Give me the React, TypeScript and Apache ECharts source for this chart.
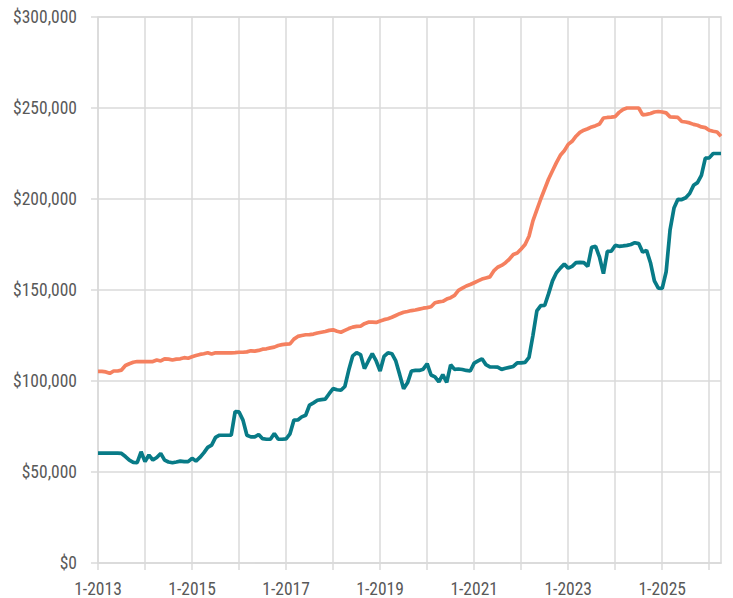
import React, { useEffect, useRef } from "react";
import * as echarts from "echarts";

const START_YEAR = 2013;
const MONTH_COUNT = 160;

// Monthly values, in thousands of dollars, Jan 2013 .. Apr 2026
const orangeValues = [
  105.3, 105.3, 105, 104.2, 105.5, 105.5, 106, 108.5, 109.5, 110.3, 110.7, 110.7,
  110.7, 110.7, 110.7, 111.5, 111, 112.2, 112, 111.5, 112, 112.2, 112.8, 112.5,
  113.3, 114, 114.6, 115, 115.5, 114.8, 115.5, 115.5, 115.5, 115.5, 115.5, 115.6,
  115.8, 115.8, 116, 116.6, 116.4, 116.8, 117.5, 117.7, 118.2, 118.6, 119.5, 120,
  120.3, 120.4, 123, 124.5, 125, 125.4, 125.5, 125.8, 126.4, 126.8, 127.2, 127.8,
  128.1, 127.3, 126.8, 127.8, 128.8, 129.6, 130, 130.1, 131.5, 132.3, 132.3, 132.2,
  133, 133.7, 134.2, 135, 136, 137, 137.8, 138.2, 138.7, 139, 139.5, 140,
  140.3, 140.8, 143, 143.5, 143.8, 145, 145.8, 147, 149.8, 151, 152.2, 153,
  154, 155, 156, 156.6, 157.2, 160.5, 162.5, 163.5, 165, 167, 169.5, 170.3,
  172.5, 175, 179.5, 188, 194, 200, 205.5, 211, 215.5, 220, 224, 226.5,
  230, 231.7, 234.5, 236.6, 237.8, 238.6, 239.6, 240.3, 241.2, 244.5, 244.8, 245,
  245.3, 247.6, 249.2, 250, 250, 250, 250, 246.2, 246.5, 247, 247.8, 248.1,
  247.8, 247.3, 245.1, 245, 244.8, 242.6, 242.3, 241.8, 241, 240.5, 239.6, 239.2,
  237.8, 237.2, 236.8, 234.5,
];

const tealValues = [
  60.4, 60.4, 60.4, 60.4, 60.4, 60.4, 60.2, 58.5, 56.5, 55.3, 55.2, 61.1,
  55.7, 59.3, 56.6, 58, 60.2, 56.5, 55.5, 55.1, 55.5, 56, 55.7, 55.7,
  57.5, 56, 58, 60.5, 63.5, 64.8, 69, 70.2, 70.2, 70.2, 70.2, 83.2,
  83, 78.5, 70.2, 69.3, 69.3, 70.6, 68.3, 68, 68, 71.2, 68, 68,
  68.2, 71, 78.5, 78.6, 80.3, 81.2, 86.8, 88, 89.4, 89.8, 90, 93,
  95.8, 95.2, 94.9, 97, 106, 113.8, 115.5, 114.5, 106.8, 111, 115, 111,
  105.5, 113.5, 115.5, 115, 111, 103.5, 95.8, 99, 105.5, 105.8, 105.8, 106.5,
  109.5, 103.3, 102.3, 99.5, 103.5, 99.2, 108.9, 106.4, 106.6, 106.3, 105.8, 105.5,
  109.8, 111, 112.2, 109, 107.8, 107.7, 107.6, 106.4, 107, 107.5, 108, 110,
  110, 110.2, 113, 125, 138.5, 141.4, 141.5, 148, 155, 159.5, 162, 164.2,
  162, 163, 165, 165.2, 165, 163, 173.5, 174, 168, 159, 171.2, 171.3,
  174.5, 174, 174.2, 174.5, 175, 176, 175.5, 170.8, 171.8, 165, 155, 151,
  150.9, 160, 183, 195, 199.8, 199.7, 200.7, 203, 207.5, 209, 213, 222.5,
  222.6, 225, 225, 225,
];

const yTicks = [0, 50000, 100000, 150000, 200000, 250000, 300000];

const categories: string[] = [];
for (let i = 0; i < MONTH_COUNT; i++) {
  categories.push(`${(i % 12) + 1}-${START_YEAR + Math.floor(i / 12)}`);
}

const GRID_COLOR = "#dadada";
const LABEL_COLOR = "#595959";
const FONT = "'Liberation Sans Narrow', 'Arial Narrow', 'Roboto Condensed', 'DejaVu Sans Condensed', sans-serif";

export default function App() {
  const ref = useRef<HTMLDivElement>(null);

  useEffect(() => {
    if (!ref.current) return;
    const chart = echarts.init(ref.current, null, { renderer: "svg" });
    chart.setOption({
      animation: false,
      backgroundColor: "#ffffff",
      grid: {
        left: 98,
        right: 12,
        top: 17,
        bottom: 33,
        show: true,
        borderColor: GRID_COLOR,
        borderWidth: 1.5,
        containLabel: false,
      },
      xAxis: {
        type: "category",
        data: categories,
        boundaryGap: false,
        axisLine: { show: true, lineStyle: { color: GRID_COLOR, width: 1.5 } },
        axisTick: {
          show: true,
          length: 7,
          interval: (i: number) => i % 12 === 0,
          lineStyle: { color: GRID_COLOR, width: 1.5 },
        },
        axisLabel: {
          interval: (i: number) => i % 24 === 0,
          color: LABEL_COLOR,
          fontFamily: FONT,
          fontSize: 17.5,
          margin: 17,
        },
        splitLine: {
          show: true,
          interval: (i: number) => i % 12 === 0,
          lineStyle: { color: GRID_COLOR, width: 1.5 },
        },
      },
      yAxis: {
        type: "value",
        min: yTicks[0],
        max: yTicks[yTicks.length - 1],
        interval: yTicks[1] - yTicks[0],
        axisLine: { show: false },
        axisTick: {
          show: true,
          length: 7,
          lineStyle: { color: GRID_COLOR, width: 1.5 },
        },
        axisLabel: {
          color: LABEL_COLOR,
          fontFamily: FONT,
          fontSize: 17.5,
          margin: 21,
          formatter: (v: number) => "$" + v.toLocaleString("en-US"),
        },
        splitLine: { show: true, lineStyle: { color: GRID_COLOR, width: 1.5 } },
      },
      series: [
        {
          type: "line",
          data: orangeValues.map((v) => v * 1000),
          showSymbol: false,
          symbol: "none",
          lineStyle: { color: "#F5805F", width: 3.7 },
          itemStyle: { color: "#F5805F" },
          z: 3,
        },
        {
          type: "line",
          data: tealValues.map((v) => v * 1000),
          showSymbol: false,
          symbol: "none",
          lineStyle: { color: "#087B87", width: 3.7 },
          itemStyle: { color: "#087B87" },
          z: 4,
        },
      ],
    });
    return () => chart.dispose();
  }, []);

  return (
    <div
      ref={ref}
      style={{ position: "fixed", left: 0, top: 0, width: 733, height: 598 }}
    />
  );
}
